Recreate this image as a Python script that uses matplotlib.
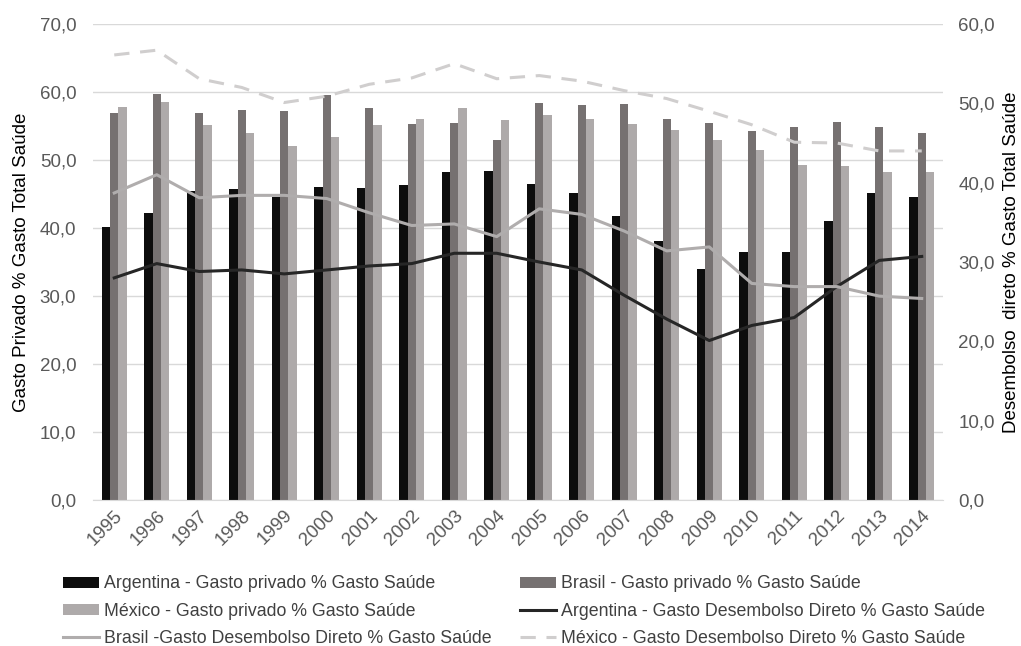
import numpy as np
import matplotlib
matplotlib.use("Agg")
import matplotlib.pyplot as plt
from matplotlib.ticker import FuncFormatter

plt.rcParams['font.family'] = ['Liberation Sans', 'DejaVu Sans']

# dados
anos = [str(a) for a in range(1995, 2015)]

arg_privado = [40.1, 42.2, 45.4, 45.7, 44.6, 46.0, 45.9, 46.3, 48.2, 48.4,
               46.4, 45.2, 41.7, 38.1, 33.9, 36.4, 36.4, 41.0, 45.1, 44.6]
bra_privado = [56.9, 59.7, 56.9, 57.3, 57.2, 59.6, 57.6, 55.3, 55.5, 52.9,
               58.4, 58.1, 58.2, 56.1, 55.5, 54.2, 54.8, 55.6, 54.9, 54.0]
mex_privado = [57.8, 58.5, 55.2, 53.9, 52.1, 53.4, 55.1, 56.0, 57.7, 55.9,
               56.6, 56.0, 55.3, 54.4, 53.0, 51.4, 49.2, 49.1, 48.2, 48.2]

arg_desemb = [28.0, 29.8, 28.8, 29.0, 28.5, 29.0, 29.5, 29.8, 31.1, 31.1,
              30.0, 29.0, 25.8, 22.8, 20.1, 22.0, 23.0, 26.9, 30.2, 30.7]
bra_desemb = [38.7, 41.0, 38.1, 38.4, 38.4, 38.0, 36.2, 34.6, 34.8, 33.2,
              36.7, 36.0, 33.9, 31.4, 31.9, 27.3, 26.9, 26.9, 25.7, 25.4]
mex_desemb = [56.1, 56.7, 53.1, 52.0, 50.1, 50.9, 52.4, 53.2, 55.0, 53.1,
              53.5, 52.8, 51.6, 50.6, 49.0, 47.3, 45.1, 45.0, 44.0, 44.0]

x = np.arange(len(anos))
w = 0.195
cinza_txt = '#595959'
fs = 13.5

fig = plt.figure(figsize=(10.21, 6.46), dpi=100)
ax = fig.add_axes([93/1021, 1-500/646, 850/1021, 476/646])
ax2 = ax.twinx()

b1 = ax.bar(x - w, arg_privado, w, color='#0d0d0d', zorder=2)
b2 = ax.bar(x, bra_privado, w, color='#767171', zorder=2)
b3 = ax.bar(x + w, mex_privado, w, color='#aeaaaa', zorder=2)

l1, = ax2.plot(x, arg_desemb, color='#262626', lw=2.2)
l2, = ax2.plot(x, bra_desemb, color='#b0adad', lw=2.2)
l3, = ax2.plot(x, mex_desemb, color='#d0cece', lw=2.2, dashes=(5, 3.5))

ax.set_xlim(-0.5, len(anos) - 0.5)
ax.set_ylim(0, 70)
ax.set_yticks(np.arange(0, 71, 10))
ax2.set_ylim(0, 60)
ax2.set_yticks(np.arange(0, 61, 10))

fmt = FuncFormatter(lambda v, p: f'{v:.1f}'.replace('.', ','))
ax.yaxis.set_major_formatter(fmt)
ax2.yaxis.set_major_formatter(fmt)

ax.yaxis.grid(True, color='#d9d9d9', lw=1)
ax.set_axisbelow(True)
for a in (ax, ax2):
    for s in a.spines.values():
        s.set_visible(False)
    a.tick_params(length=0, labelsize=fs, labelcolor=cinza_txt)
ax.spines['bottom'].set_visible(True)
ax.spines['bottom'].set_color('#d9d9d9')

ax.set_xticks(x)
ax.set_xticklabels(anos, rotation=45, ha='right', rotation_mode='anchor')
ax.tick_params(axis='x', pad=5)
ax.tick_params(axis='y', pad=12)
ax2.tick_params(axis='y', pad=11)

ax.set_ylabel('Gasto Privado % Gasto Total Saúde', fontsize=fs, labelpad=7)
ax2.set_ylabel('Desembolso  direto % Gasto Total Saúde', fontsize=fs, labelpad=6)

handles = [b1, b3, l2, b2, l1, l3]
labels = ['Argentina - Gasto privado % Gasto Saúde',
          'México - Gasto privado % Gasto Saúde',
          'Brasil -Gasto Desembolso Direto % Gasto Saúde',
          'Brasil - Gasto privado % Gasto Saúde',
          'Argentina - Gasto Desembolso Direto % Gasto Saúde',
          'México - Gasto Desembolso Direto % Gasto Saúde']
leg = fig.legend(handles, labels, ncol=2, loc='upper left',
                 bbox_to_anchor=(51/1021, 1-563/646), frameon=False,
                 fontsize=12.8, handlelength=2.0, handleheight=0.6,
                 handletextpad=0.3, columnspacing=1.6, labelspacing=0.58,
                 borderaxespad=0.3)
for t in leg.get_texts():
    t.set_color('#404040')

fig.savefig('out.png', dpi=100)
